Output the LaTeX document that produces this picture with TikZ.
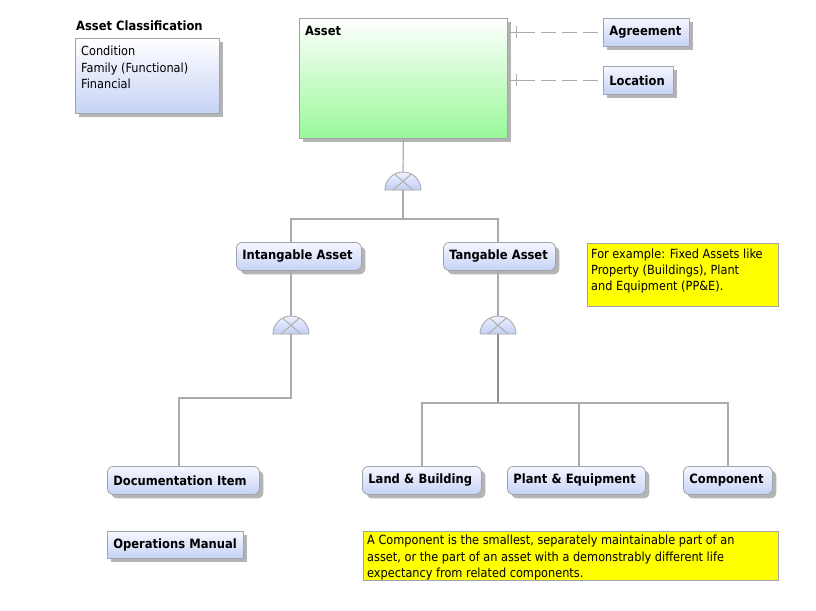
\documentclass[tikz,border=0pt]{standalone}
\usepackage{fontspec}
\setmainfont{DejaVu Sans Condensed}
\usetikzlibrary{shadows}
\definecolor{shadowgray}{HTML}{B4B4B4}
\definecolor{boxline}{HTML}{A0A4AC}
\definecolor{linegray}{HTML}{ABABAB}
\definecolor{trunkgray}{HTML}{909090}
\definecolor{bluetop}{HTML}{F6F8FF}
\definecolor{bluebot}{HTML}{C6D2F6}
\definecolor{greenbot}{HTML}{98F898}
\definecolor{noteyellow}{HTML}{FFFF00}
\definecolor{gatetop}{HTML}{EEF2FD}
\definecolor{gatebot}{HTML}{C2CEF4}
\tikzset{
  labelfont/.style={font=\bfseries\fontsize{12.8}{14}\selectfont},
  plainfont/.style={font=\fontsize{12.6}{16.5}\selectfont},
  shadowed/.style={general shadow={fill=shadowgray, shadow xshift=4pt, shadow yshift=-4pt}},
  sqbox/.style={draw=boxline, line width=0.8pt, top color=bluetop, bottom color=bluebot,
    shadowed, anchor=north west, inner xsep=6pt, inner ysep=0pt, minimum height=28pt,
    align=left, labelfont},
  rbox/.style={sqbox, rounded corners=6pt},
  note/.style={draw=boxline, line width=0.8pt, fill=noteyellow, anchor=north west,
    inner xsep=4pt, inner ysep=0pt, align=left},
  conn/.style={draw=linegray, line width=1.2pt},
  trunk/.style={draw=trunkgray, line width=2pt},
  dashconn/.style={draw=linegray, line width=1.2pt, dash pattern=on 15pt off 6pt},
  gate/.pic={
    \shade[top color=gatetop, bottom color=gatebot]
      (-18pt,0pt) arc[start angle=180, end angle=0, radius=18pt] -- cycle;
    \begin{scope}
      \clip (-18pt,0pt) arc[start angle=180, end angle=0, radius=18pt] -- cycle;
      \draw[linegray, line width=0.9pt] (-12pt,19pt) -- (10pt,0pt);
      \draw[linegray, line width=0.9pt] (12pt,19pt) -- (-10pt,0pt);
    \end{scope}
    \draw[linegray, line width=0.9pt]
      (-18pt,0pt) arc[start angle=180, end angle=0, radius=18pt] -- cycle;
  }
}
\begin{document}
\begin{tikzpicture}[x=1pt, y=-1pt]
\useasboundingbox[fill=white] (0,0) rectangle (816,610);

% classification legend
\node[labelfont, anchor=west, inner sep=0pt] (clstitle) at (76,26) {Asset Classification};
\node[sqbox, top color=white, bottom color=bluebot, minimum width=144pt, minimum height=75pt,
  label={[plainfont, anchor=north west, align=left, inner sep=0pt, xshift=6pt, yshift=-8pt]
    north west:Condition\\Family (Functional)\\Financial}]
  (cls) at (75,38) {};

% root entity
\node[draw=boxline, line width=0.8pt, top color=white, bottom color=greenbot, shadowed,
  anchor=north west, minimum width=208pt, minimum height=120pt, inner sep=0pt,
  label={[labelfont, anchor=north west, inner sep=0pt, xshift=6pt, yshift=-8pt]north west:Asset}]
  (asset) at (299,18) {};

\node[sqbox, text width=74pt] (agr) at (603,18) {Agreement};
\node[sqbox, text width=58pt] (loc) at (603,66) {Location};

% subtype level 1
\node[rbox, text width=113pt] (ia) at (236,242) {\mbox{Intangable Asset}};
\node[rbox, text width=100pt] (ta) at (443,242) {\mbox{Tangable Asset}};

% subtype level 2
\node[rbox, text width=140pt] (doc) at (107,466) {\mbox{Documentation Item}};
\node[rbox, text width=107pt] (lb) at (362,466) {\mbox{Land \& Building}};
\node[rbox, text width=126pt] (pe) at (507,466) {\mbox{Plant \& Equipment}};
\node[rbox, text width=77pt] (cmp) at (683,466) {Component};
\node[sqbox, text width=124pt, minimum height=27pt] (om) at (107,531) {\mbox{Operations Manual}};

% notes
\node[note, text width=183pt, minimum height=63pt,
  label={[plainfont, font=\fontsize{12.6}{16}\selectfont, anchor=north west, align=left, inner sep=0pt, xshift=4pt, yshift=-6pt]
    north west:For example: Fixed Assets like\\Property (Buildings), Plant\\and Equipment (PP\&E).}]
  (n1) at (587,243) {};
\node[note, text width=407pt, minimum height=49pt,
  label={[plainfont, anchor=north west, align=left, inner sep=0pt, xshift=4pt, yshift=-4pt]
    north west:A Component is the smallest, separately maintainable part of an\\asset, or the part of an asset with a demonstrably different life\\expectancy from related components.}]
  (n2) at (363,531) {};

% gates
\coordinate (g1t) at (403,172); \coordinate (g1) at (403,190);
\coordinate (g2t) at (291,316); \coordinate (g2) at (291,334);
\coordinate (g3t) at (498,316); \coordinate (g3) at (498,334);
\coordinate (j1) at (403,219);
\coordinate (j2) at (291,398); \coordinate (d2) at (179,398);
\coordinate (j3) at (498,403);
\coordinate (pj) at (579,403);

% connectors
\draw[conn] (asset.south) -- (g1t);
\draw[conn] (g1) -- (j1);
\draw[conn] (j1) -| (ia.north -| g2);
\draw[conn] (j1) -| (ta.north -| g3);
\draw[conn] (ia.south -| g2) -- (g2t);
\draw[conn] (ta.south -| g3) -- (g3t);
\draw[conn] (g2) -- (j2) -- (d2) -- (doc.north -| d2);
\draw[trunk] (g3) -- (j3);
\draw[conn] (j3) -| (lb.north);
\draw[conn] (j3) -| (cmp.north);
\draw[conn] (pj) -- (pe.north -| pj);

\pic at (g1) {gate};
\pic at (g2) {gate};
\pic at (g3) {gate};

% associations
\foreach \t in {agr, loc}{
  \draw[conn] (asset.east |- \t.west) -- ++(12,0) coordinate (\t s);
  \draw[conn, line width=1pt] ([xshift=-3pt, yshift=6pt]\t s) -- ([xshift=-3pt, yshift=-6pt]\t s);
  \draw[dashconn] (\t s) -- (\t.west);
}
\end{tikzpicture}
\end{document}
